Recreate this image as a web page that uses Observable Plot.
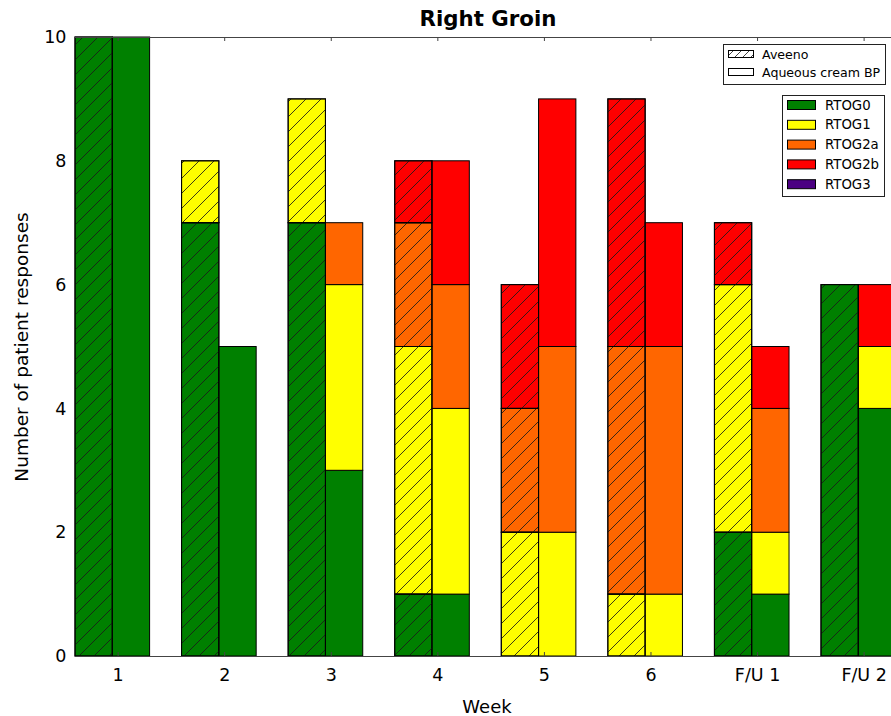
<!DOCTYPE html>
<html>
<head>
<meta charset="utf-8">
<script src="https://cdn.jsdelivr.net/npm/d3@7"></script>
<script src="https://cdn.jsdelivr.net/npm/@observablehq/plot@0.6"></script>
<style>
  html, body { margin: 0; padding: 0; background: #fff; }
  #chart { width: 891px; height: 716px; overflow: hidden; }
</style>
</head>
<body>
<div id="chart"></div>
<script>
// ---- Data ----
const weeks = ["1", "2", "3", "4", "5", "6", "F/U 1", "F/U 2"];
const grades = ["RTOG0", "RTOG1", "RTOG2a", "RTOG2b", "RTOG3"];
const gradeColors = ["#008000", "#ffff00", "#ff6600", "#ff0000", "#4b0082"];
const treatments = ["Aveeno", "Aqueous cream BP"];

// Aveeno (hatched)
const aveenoG0  = [10, 7, 7, 1, 0, 0, 2, 6];
const aveenoG1  = [0, 1, 2, 4, 2, 1, 4, 0];
const aveenoG2a = [0, 0, 0, 2, 2, 4, 0, 0];
const aveenoG2b = [0, 0, 0, 1, 2, 4, 1, 0];
const aveenoG3  = [0, 0, 0, 0, 0, 0, 0, 0];

// Aqueous cream BP (plain)
const aqueousG0  = [10, 5, 3, 1, 0, 0, 1, 4];
const aqueousG1  = [0, 0, 3, 3, 2, 1, 1, 1];
const aqueousG2a = [0, 0, 1, 2, 3, 4, 2, 0];
const aqueousG2b = [0, 0, 0, 2, 4, 2, 1, 1];
const aqueousG3  = [0, 0, 0, 0, 0, 0, 0, 0];

const yTicks = [0, 2, 4, 6, 8, 10];

// ---- Layout constants ----
const barW = 0.35;
const tickOffset = 0.4;
const W = 891, H = 716;

// Build stacked rows
const series = [
  {t: 0, arrays: [aveenoG0, aveenoG1, aveenoG2a, aveenoG2b, aveenoG3]},
  {t: 1, arrays: [aqueousG0, aqueousG1, aqueousG2a, aqueousG2b, aqueousG3]}
];
const rows = [];
for (const s of series) {
  weeks.forEach((w, i) => {
    let acc = 0;
    s.arrays.forEach((arr, g) => {
      const v = arr[i];
      if (v > 0) {
        rows.push({
          week: w, treatment: treatments[s.t], grade: grades[g],
          x1: i + s.t * barW, x2: i + (s.t + 1) * barW,
          y1: acc, y2: acc + v
        });
      }
      acc += v;
    });
  });
}
const tickPos = weeks.map((w, i) => i + tickOffset);

const defs = () => {
  const d = d3.create("svg:defs");
  const p = d.append("pattern").attr("id", "hatch").attr("patternUnits", "userSpaceOnUse")
    .attr("width", 15).attr("height", 15);
  p.append("path").attr("d", "M0,15 L15,0 M-3,3 L3,-3 M12,18 L18,12")
    .attr("stroke", "#1a1a1a").attr("stroke-width", 0.85).attr("fill", "none");
  const q = d.append("pattern").attr("id", "hatchSmall").attr("patternUnits", "userSpaceOnUse")
    .attr("width", 8).attr("height", 8);
  q.append("path").attr("d", "M0,8 L8,0 M-2,2 L2,-2 M6,10 L10,6")
    .attr("stroke", "#111").attr("stroke-width", 0.8).attr("fill", "none");
  return d.node();
};

const plot = Plot.plot({
  width: W,
  height: H,
  marginTop: 37,
  marginBottom: 60,
  marginLeft: 75,
  marginRight: 0,
  style: {fontFamily: "DejaVu Sans", fontSize: "17.5px", color: "#000", background: "#fff"},
  x: {type: "linear", domain: [0, weeks.length - 1 + 2 * barW], range: [75, 75 + (weeks.length - 1 + 2 * barW) * 106.57]},
  y: {domain: [0, 10], range: [656, 37]},
  color: {domain: grades, range: gradeColors},
  marks: [
    defs,
    Plot.rectY(rows, {x1: "x1", x2: "x2", y1: "y1", y2: "y2", fill: "grade", stroke: "#000", strokeWidth: 1}),
    Plot.rectY(rows.filter(d => d.treatment === "Aveeno"), {x1: "x1", x2: "x2", y1: "y1", y2: "y2", fill: "url(#hatch)", stroke: "#000", strokeWidth: 1}),
    Plot.ruleY([10], {stroke: "#444", strokeWidth: 1.2}),
    Plot.ruleY([0], {stroke: "#444", strokeWidth: 1.2}),
    Plot.tickX(tickPos, {x: d => d, insetTop: 615, stroke: "#444"}),
    Plot.tickX(tickPos, {x: d => d, insetBottom: 615, stroke: "#444"}),
    Plot.axisX(tickPos, {tickSize: 0, tickPadding: 12, tickFormat: (d, i) => weeks[i], label: null, fontSize: 17.5}),
    Plot.axisY(yTicks, {tickSize: 0, tickPadding: 9, tickFormat: d3.format("d"), label: null, fontSize: 17.5})
  ]
});

document.getElementById("chart").appendChild(plot);

// ---- Titles and legends ----
const svg = d3.select(plot);
svg.append("text").attr("x", 488).attr("y", 18).attr("text-anchor", "middle")
  .attr("dominant-baseline", "central").attr("font-weight", "bold").attr("font-size", 21.3)
  .attr("fill", "#000").text("Right Groin");
svg.append("text").attr("x", 487).attr("y", 706).attr("text-anchor", "middle")
  .attr("dominant-baseline", "central").attr("font-size", 18).attr("fill", "#000").text("Week");
svg.append("text").attr("transform", "translate(21,347) rotate(-90)").attr("text-anchor", "middle")
  .attr("dominant-baseline", "central").attr("font-size", 18.5).attr("fill", "#000")
  .text("Number of patient responses");

// Legend 1: treatments
const lg1 = svg.append("g").attr("text-anchor", "start");
lg1.append("rect").attr("x", 723.5).attr("y", 44.5).attr("width", 162).attr("height", 40)
  .attr("fill", "#fff").attr("stroke", "#222");
[["Aveeno", true], ["Aqueous cream BP", false]].forEach(([lab, hatched], k) => {
  const cy = 54 + k * 18;
  lg1.append("rect").attr("x", 728.5).attr("y", cy - 3.5).attr("width", 25).attr("height", 7)
    .attr("fill", "#fff").attr("stroke", "#000");
  if (hatched) lg1.append("rect").attr("x", 728.5).attr("y", cy - 3.5).attr("width", 25).attr("height", 7)
    .attr("fill", "url(#hatchSmall)").attr("stroke", "#000");
  lg1.append("text").attr("x", 762).attr("y", cy).attr("text-anchor", "start").attr("dominant-baseline", "central")
    .attr("font-size", 12.6).attr("fill", "#000").text(lab);
});

// Legend 2: grades
const lg2 = svg.append("g").attr("text-anchor", "start");
lg2.append("rect").attr("x", 782.5).attr("y", 95.5).attr("width", 102).attr("height", 101)
  .attr("fill", "#fff").attr("stroke", "#222");
grades.forEach((g, k) => {
  const cy = 105 + k * 19.8;
  lg2.append("rect").attr("x", 787.5).attr("y", cy - 4.5).attr("width", 28).attr("height", 9)
    .attr("fill", gradeColors[k]).attr("stroke", "#000");
  lg2.append("text").attr("x", 825).attr("y", cy).attr("text-anchor", "start").attr("dominant-baseline", "central")
    .attr("font-size", 13.3).attr("fill", "#000").text(g);
});
</script>
</body>
</html>
